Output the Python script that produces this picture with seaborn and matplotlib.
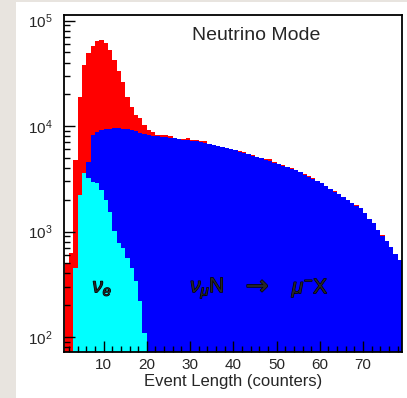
import numpy as np
import pandas as pd
import matplotlib
matplotlib.use("Agg")
import matplotlib.pyplot as plt
import matplotlib.patheffects as pe
from matplotlib.patches import Rectangle
from matplotlib.ticker import LogLocator, MultipleLocator
import seaborn as sns

# ---- data: counts per event-length bin (bin i spans [i, i+1]) ----
bin_start = list(range(1, 79))

all_events = [500, 620, 4800, 19000, 38000, 49000, 58000, 64000, 65000, 61000,
              52500, 42500, 33000, 26000, 19000, 15000, 12700, 11900, 10200, 9200,
              8800, 8300, 8250, 8150, 8050, 7780, 7600, 7500, 7650, 7350,
              7300, 7250, 7150, 6800, 6650, 6500, 6350, 6220, 6080, 5950,
              5760, 5640, 5460, 5280, 5110, 5000, 4840, 4850, 4550, 4380,
              4240, 4110, 3970, 3810, 3680, 3490, 3340, 3200, 3030, 2900,
              2720, 2550, 2410, 2290, 2140, 2000, 1870, 1770, 1680, 1510,
              1320, 1210, 1040, 920, 820, 720, 615, 540]

numu_cc = [0, 0, 0, 200, 1500, 4600, 8200, 8800, 9200, 9300,
           9450, 9560, 9560, 9450, 9350, 9160, 8970, 8590, 8400, 8220,
           8130, 8040, 7950, 7870, 7780, 7700, 7530, 7450, 7370, 7290,
           7210, 7050, 6900, 6750, 6610, 6460, 6320, 6190, 6050, 5920,
           5730, 5610, 5430, 5250, 5080, 4970, 4810, 4660, 4510, 4360,
           4220, 4090, 3950, 3790, 3660, 3470, 3320, 3180, 3010, 2880,
           2700, 2530, 2390, 2270, 2120, 1990, 1860, 1760, 1670, 1500,
           1310, 1200, 1030, 910, 810, 715, 610, 535]

nue = [0, 0, 450, 2230, 3550, 3200, 2950, 2870, 2460, 2000,
       1540, 1020, 780, 700, 560, 450, 340, 220, 110] + [0] * 59

x_ticks = [10, 20, 30, 40, 50, 60, 70]
title_text = "Neutrino Mode"
x_label = "Event Length (counters)"
nue_label = r"$\nu_{e}$"
numu_parts = [r"$\nu_{\mu}$N", "\u2192", r"$\mu^{-}$X"]

# ---- style ----
sns.set_style("ticks")
plt.rcParams["font.family"] = ["Liberation Sans", "DejaVu Sans"]
plt.rcParams["mathtext.fontset"] = "custom"
plt.rcParams["mathtext.rm"] = "Liberation Sans"
plt.rcParams["mathtext.it"] = "Liberation Sans:italic"

fig = plt.figure(figsize=(4.07, 3.98), dpi=100, facecolor="white")
# light gray page strips (left and top)
fig.patches.append(Rectangle((0, 0), 16 / 407, 1, transform=fig.transFigure,
                             facecolor="#e8e4df", edgecolor="none", zorder=-10))
fig.patches.append(Rectangle((0, 1 - 2 / 398), 1, 2 / 398, transform=fig.transFigure,
                             facecolor="#e8e4df", edgecolor="none", zorder=-10))

ax = fig.add_axes([64 / 407, 46 / 398, 338 / 407, 337 / 398])

edges = [float(b) for b in range(1, 80)]
df = pd.DataFrame({"x": [b + 0.5 for b in bin_start],
                   "all": all_events, "numu": numu_cc, "nue": nue})
for col_name, col in [("all", "#ff0000"), ("numu", "#0000ff"), ("nue", "#00ffff")]:
    sns.histplot(data=df, x="x", weights=col_name, bins=edges, element="step",
                 fill=True, color=col, alpha=1, linewidth=0, ax=ax)

ax.set_yscale("log")
ax.set_xlim(0.85, 79)
ax.set_ylim(72, 1.13e5)
ax.set_ylabel("")
ax.set_xlabel(x_label, fontsize=12, labelpad=2)

ax.xaxis.set_major_locator(plt.FixedLocator(x_ticks))
ax.xaxis.set_minor_locator(MultipleLocator(2))
ax.yaxis.set_major_locator(LogLocator(base=10))
ax.yaxis.set_minor_locator(LogLocator(base=10, subs=np.arange(2, 10)))
ax.tick_params(which="both", direction="in", top=False, right=False, width=1, color="black")
ax.tick_params(which="major", length=8)
ax.tick_params(which="minor", length=4)
ax.tick_params(axis="x", which="major", labelsize=11, pad=4)
ax.tick_params(axis="y", which="major", labelsize=11, pad=8)
for s in ax.spines.values():
    s.set_linewidth(1.3)
    s.set_color("black")
ax.set_axisbelow(False)

thick = [pe.withStroke(linewidth=0.9, foreground="black")]
ax.text(0.378, 0.938, title_text, transform=ax.transAxes, fontsize=14,
        ha="left", va="center")
ax.text(7.4, 290, nue_label, fontsize=15, ha="left", va="center", path_effects=thick)
ax.text(30.0, 290, numu_parts[0], fontsize=15, ha="left", va="center", path_effects=thick)
ax.text(42.8, 300, numu_parts[1], fontsize=20, ha="left", va="center",
        family="DejaVu Sans", path_effects=thick)
ax.text(53.5, 290, numu_parts[2], fontsize=15, ha="left", va="center", path_effects=thick)

fig.savefig("out.png", dpi=100, facecolor="white")
